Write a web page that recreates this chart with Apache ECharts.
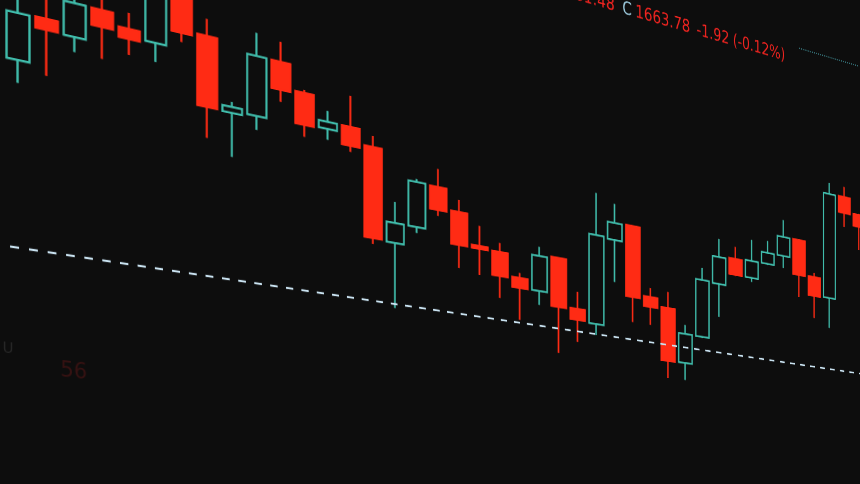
<!DOCTYPE html>
<html>
<head>
<meta charset="utf-8">
<script src="https://cdn.jsdelivr.net/npm/echarts@6/dist/echarts.min.js"></script>
<style>
html, body { margin: 0; padding: 0; width: 860px; height: 484px; overflow: hidden; background: #0d0d0d; }
/* The chart is drawn on a flat "screen", then viewed in perspective like the photo */
#screen {
  position: absolute; left: 0; top: 0; width: 1240px; height: 780px;
  transform-origin: 0 0;
  transform: matrix3d(1.00972, 0.236, 0, 0.000347, 0, 1, 0, 0, 0, 0, 1, 0, 0, -290, 0, 1);
}
</style>
</head>
<body>
<div id="screen"></div>
<script>
const categories = [
  "10:00","10:05","10:10","10:15","10:20","10:25","10:30","10:35","10:40","10:45",
  "10:50","10:55","11:00","11:05","11:10","11:15","11:20","11:25","11:30","11:35",
  "11:40","11:45","11:50","11:55","12:00","12:05","12:10","12:15","12:20","12:25",
  "12:30","12:35","12:40","12:45","12:50","12:55","13:00","13:05","13:10","13:15",
  "13:20","13:25"
];
const opens = [
  1662.45, 1665.81, 1664.97, 1667.38, 1666.47, 1665.89, 1670.15, 1667.32, 1661.91, 1662.08,
  1666.67, 1664.68, 1662.25, 1662.80, 1661.58, 1654.18, 1655.79, 1659.41, 1657.68, 1655.16,
  1654.96, 1653.05, 1652.21, 1655.35, 1651.19, 1650.12, 1657.83, 1659.39, 1653.31, 1652.58,
  1647.81, 1650.44, 1655.60, 1658.23, 1656.73, 1658.35, 1659.40, 1661.24, 1657.95, 1656.18,
  1666.41, 1664.97
];
const closes = [
  1665.76, 1665.03, 1667.41, 1666.15, 1665.73, 1669.96, 1667.09, 1661.97, 1662.37, 1666.69,
  1664.50, 1662.18, 1662.81, 1661.29, 1654.27, 1655.80, 1659.47, 1657.51, 1654.94, 1654.91,
  1652.93, 1652.19, 1655.22, 1651.10, 1650.23, 1657.96, 1659.34, 1653.04, 1652.41, 1647.77,
  1650.47, 1655.69, 1658.11, 1656.73, 1658.33, 1659.39, 1661.22, 1657.86, 1656.11, 1666.37,
  1664.83, 1663.78
];
const lows = [
  1660.83, 1661.75, 1663.89, 1663.83, 1664.56, 1664.48, 1666.41, 1659.63, 1658.57, 1661.01,
  1663.57, 1661.24, 1661.39, 1660.81, 1653.79, 1648.91, 1655.30, 1657.02, 1653.02, 1652.73,
  1651.07, 1649.47, 1651.01, 1647.12, 1648.31, 1649.15, 1654.10, 1650.80, 1650.79, 1646.22,
  1646.25, 1650.34, 1652.54, 1656.63, 1656.35, 1658.25, 1658.25, 1655.74, 1653.97, 1653.25,
  1663.45, 1661.48
];
const highs = [
  1667.03, 1667.59, 1668.35, 1668.55, 1667.64, 1670.92, 1670.89, 1668.60, 1662.75, 1668.46,
  1668.22, 1664.91, 1663.67, 1665.27, 1662.46, 1657.50, 1659.71, 1660.89, 1658.68, 1656.84,
  1655.72, 1653.47, 1656.00, 1655.43, 1652.68, 1661.66, 1661.03, 1659.48, 1654.12, 1654.04,
  1651.29, 1656.80, 1659.79, 1659.35, 1660.32, 1660.53, 1662.84, 1661.34, 1658.34, 1667.44,
  1667.40, 1665.07
];
const supportLevel = 1649.22;      // dashed horizontal line
const resistanceLevel = 1679.80;   // dotted horizontal line (right part)
const resistanceFrom = "13:05";
const lastChange = -1.92;
const lastChangePct = -0.12;

const UP = '#40bcab';
const DOWN = '#ff2b14';
const TXT_RED = '#f02420';
const TXT_LBL = '#9ccadd';
const FONT = '22px "DejaVu Sans"';

const candles = categories.map((c, i) => [opens[i], closes[i], lows[i], highs[i]]);
const last = categories.length - 1;

const chart = echarts.init(document.getElementById('screen'), null, { renderer: 'canvas', devicePixelRatio: 2 });
chart.setOption({
  backgroundColor: '#0d0d0d',
  animation: false,
  grid: { left: 3.5, right: 18.5, top: 0, bottom: 0 },
  xAxis: { type: 'category', data: categories, boundaryGap: true, show: false },
  yAxis: { type: 'value', min: 1632.08, max: 1686.68, show: false, splitLine: { show: false } },
  series: [{
    type: 'candlestick',
    data: candles,
    barWidth: 23,
    itemStyle: {
      color: 'rgba(0,0,0,0)',
      color0: DOWN,
      borderColor: UP,
      borderColor0: DOWN,
      borderWidth: 2.4
    },
    markLine: {
      silent: true,
      symbol: ['none', 'none'],
      label: { show: false },
      data: [
        { yAxis: supportLevel, lineStyle: { color: '#c9e2f0', width: 2.2, type: [9, 10], dashOffset: 12.5 } },
        [
          { coord: [resistanceFrom, resistanceLevel] },
          { coord: [categories[last], resistanceLevel] }
        ]
      ],
      lineStyle: { color: '#3f8a92', width: 1.6, type: [2, 2] }
    }
  }],
  graphic: [
    { type: 'text', x: 772, y: 116, style: { text: 'L' + lows[last].toFixed(2), fill: TXT_RED, font: FONT, align: 'right', verticalAlign: 'middle' } },
    { type: 'text', x: 784, y: 116, style: { text: 'C', fill: TXT_LBL, font: FONT, align: 'left', verticalAlign: 'middle' } },
    { type: 'text', x: 805, y: 116, style: { text: closes[last].toFixed(2), fill: TXT_RED, font: FONT, align: 'left', verticalAlign: 'middle' } },
    { type: 'text', x: 907, y: 116, style: { text: lastChange.toFixed(2), fill: TXT_RED, font: FONT, align: 'left', verticalAlign: 'middle' } },
    { type: 'text', x: 970, y: 116, style: { text: '(' + lastChangePct.toFixed(2) + '%)', fill: TXT_RED, font: FONT, align: 'left', verticalAlign: 'middle' } },
    { type: 'text', x: 8, y: 638, style: { text: 'U', fill: '#272727', font: '15px "DejaVu Sans"', align: 'center', verticalAlign: 'middle' } },
    { type: 'text', x: 75, y: 654, style: { text: '56', fill: '#361212', font: FONT, align: 'center', verticalAlign: 'middle' } }
  ]
});
</script>
</body>
</html>
